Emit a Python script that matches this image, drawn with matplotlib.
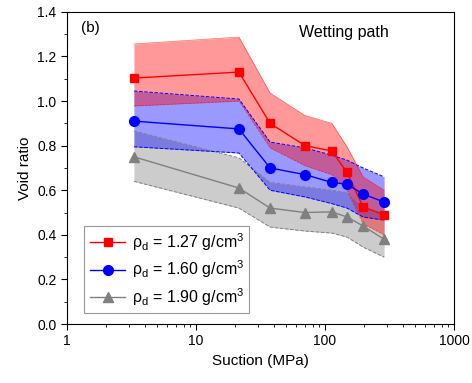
import matplotlib
matplotlib.use("Agg")
import matplotlib.pyplot as plt

plt.rcParams["font.family"] = ["Liberation Sans", "DejaVu Sans"]

suction = [3.3, 21.5, 37.5, 70, 113, 148, 197, 287]

e_127 = [1.103, 1.13, 0.90, 0.80, 0.776, 0.68, 0.525, 0.49]
e_127_hi = [1.256, 1.287, 1.036, 0.935, 0.90, 0.795, 0.66, 0.60]
e_127_lo = [0.978, 1.0, 0.79, 0.71, 0.67, 0.60, 0.45, 0.40]

e_160 = [0.91, 0.875, 0.70, 0.67, 0.635, 0.627, 0.583, 0.547]
e_160_hi = [1.045, 1.009, 0.816, 0.79, 0.757, 0.735, 0.70, 0.66]
e_160_lo = [0.795, 0.767, 0.60, 0.57, 0.54, 0.52, 0.48, 0.466]

e_190 = [0.75, 0.61, 0.52, 0.50, 0.503, 0.48, 0.44, 0.38]
e_190_hi = [0.866, 0.745, 0.635, 0.615, 0.60, 0.59, 0.525, 0.50]
e_190_lo = [0.64, 0.52, 0.435, 0.417, 0.408, 0.39, 0.345, 0.30]

labels = [r"ρ$_\mathregular{d}$ = 1.27 g/cm$^\mathregular{3}$",
          r"ρ$_\mathregular{d}$ = 1.60 g/cm$^\mathregular{3}$",
          r"ρ$_\mathregular{d}$ = 1.90 g/cm$^\mathregular{3}$"]

fig = plt.figure(figsize=(4.72, 3.83), dpi=100)
ax = fig.add_axes([0.142, 0.154, 0.820, 0.815])

# bands (drawn gray -> blue -> red so overlaps mix like the original)
ax.fill_between(suction, e_190_lo, e_190_hi, color="#808080", alpha=0.4, lw=0)
ax.plot(suction, e_190_hi, color="#808080", ls="--", lw=0.7)
ax.plot(suction, e_190_lo, color="#808080", ls="--", lw=0.7)

ax.fill_between(suction, e_160_lo, e_160_hi, color="#0000ff", alpha=0.4, lw=0)
ax.plot(suction, e_160_hi, color="#0000ff", ls="--", lw=0.7)
ax.plot(suction, e_160_lo, color="#0000ff", ls="--", lw=0.7)

ax.fill_between(suction, e_127_lo, e_127_hi, color="#ff0000", alpha=0.4, lw=0)
ax.plot(suction, e_127_hi, color="#ff0000", ls="-", lw=0.5, alpha=0.6)
ax.plot(suction, e_127_lo, color="#ff0000", ls="--", lw=0.5, alpha=0.6)

ax.plot(suction, e_127, color="red", marker="s", ms=6, lw=1, label=labels[0])
ax.plot(suction, e_160, color="blue", marker="o", ms=7, lw=1, label=labels[1])
ax.plot(suction, e_190, color="#808080", marker="^", ms=7, lw=1, label=labels[2])

ax.set_xscale("log")
ax.set_xlim(1, 1000)
ax.set_ylim(0, 1.4)
ax.set_xticks([1, 10, 100, 1000])
ax.set_xticklabels(["1", "10", "100", "1000"])
ax.set_yticks([0, 0.2, 0.4, 0.6, 0.8, 1.0, 1.2, 1.4])
ax.set_yticks([0.1, 0.3, 0.5, 0.7, 0.9, 1.1, 1.3], minor=True)
ax.tick_params(which="major", direction="out", length=4, labelsize=10)
ax.tick_params(which="minor", direction="out", length=2.5)

ax.set_xlabel("Suction (MPa)", fontsize=11)
ax.set_ylabel("Void ratio", fontsize=11)

ax.text(0.035, 0.935, "(b)", transform=ax.transAxes, fontsize=11)
ax.text(0.60, 0.92, "Wetting path", transform=ax.transAxes, fontsize=11.5)

leg = ax.legend(loc="lower left", bbox_to_anchor=(0.045, 0.035), fontsize=11.5,
                fancybox=False, edgecolor="#808080", handlelength=2.2,
                handletextpad=0.4, borderpad=0.35, borderaxespad=0,
                labelspacing=0.35)
leg.get_frame().set_linewidth(0.8)

fig.savefig("out.png", dpi=100)
